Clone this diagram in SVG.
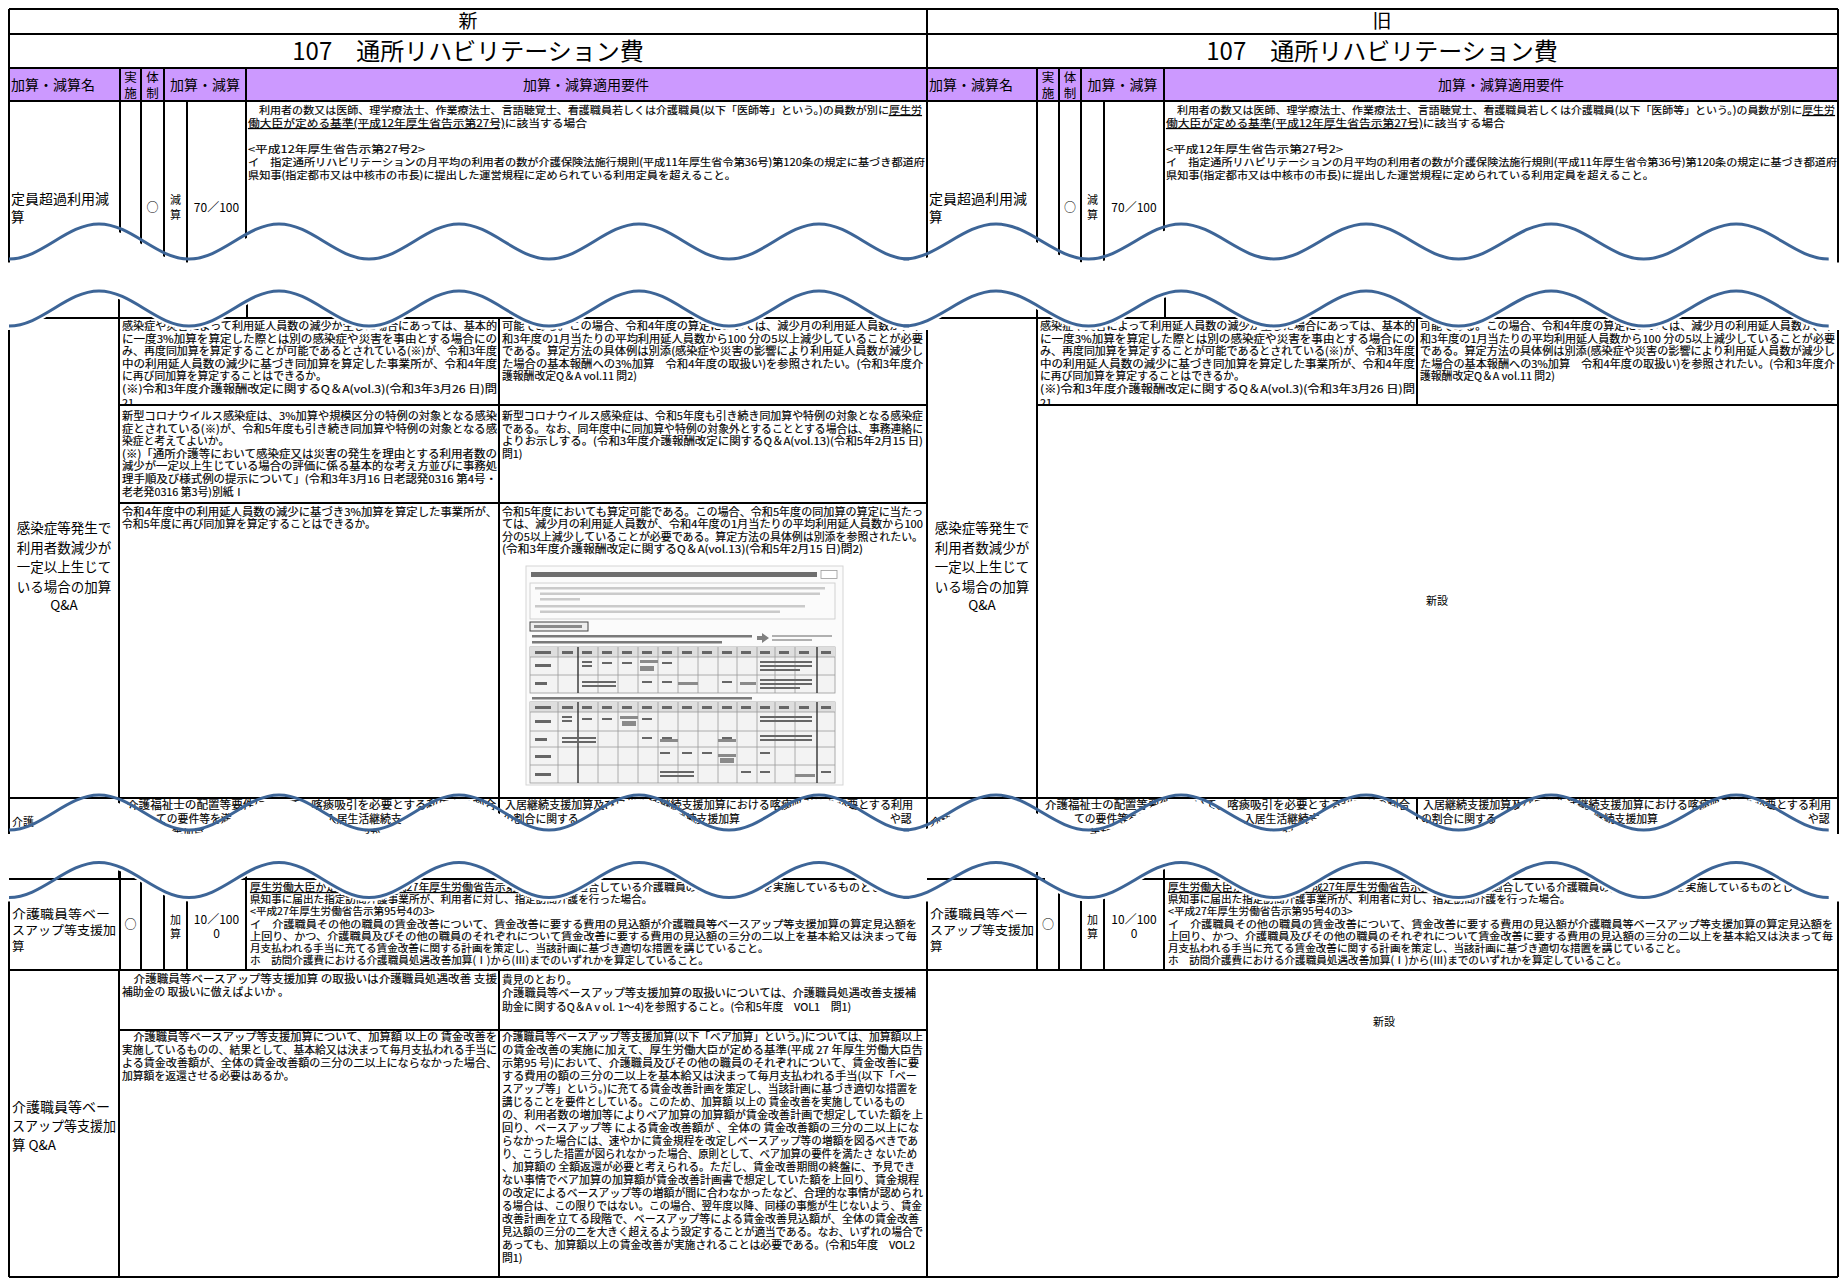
<svg xmlns="http://www.w3.org/2000/svg" width="1842" height="1283" viewBox="0 0 1842 1283">
<defs>
<style>
text{font-family:"Noto Sans CJK JP","Noto Sans CJK SC",sans-serif;fill:#000}
.f19{font-size:19px}
.f24{font-size:24px}
.f14{font-size:14px}
.f13{font-size:13.5px}
.f125{font-size:12.5px}
.f12{font-size:12px}
.f11{font-size:11px}
.f105{font-size:10.5px;stroke:#000;stroke-width:0.15px}
.f108{font-size:10.8px;stroke:#000;stroke-width:0.15px}
.f106{font-size:10.6px;stroke:#000;stroke-width:0.15px}
.c{text-anchor:middle}
.u{text-decoration:underline}
.ln{stroke:#000;stroke-width:2;fill:none}
.wv{fill:none;stroke:#3d6597;stroke-width:3}
.bd{fill:#fff;stroke:none}
.hd{fill:#cc99ff}
.fg{fill:none;stroke:#9a9a9a;stroke-width:0.8}
</style>
<path id="wave" d="M0,17.5 C32.7,17.5 57.3,-17.5 90,-17.5 S147.3,17.5 180,17.5 S237.3,-17.5 270,-17.5 S327.3,17.5 360,17.5 S417.3,-17.5 450,-17.5 S507.3,17.5 540,17.5 S597.3,-17.5 630,-17.5 S687.3,17.5 720,17.5 S777.3,-17.5 810,-17.5 S867.3,17.5 900,17.5"/>
<path id="bandA" d="M0,17.5 C32.7,17.5 57.3,-17.5 90,-17.5 S147.3,17.5 180,17.5 S237.3,-17.5 270,-17.5 S327.3,17.5 360,17.5 S417.3,-17.5 450,-17.5 S507.3,17.5 540,17.5 S597.3,-17.5 630,-17.5 S687.3,17.5 720,17.5 S777.3,-17.5 810,-17.5 S867.3,17.5 900,17.5 L922,17.5 L922,50 L-6,50 L-6,17.5 Z"/>
<path id="bandB" d="M0,17.5 C32.7,17.5 57.3,-17.5 90,-17.5 S147.3,17.5 180,17.5 S237.3,-17.5 270,-17.5 S327.3,17.5 360,17.5 S417.3,-17.5 450,-17.5 S507.3,17.5 540,17.5 S597.3,-17.5 630,-17.5 S687.3,17.5 720,17.5 S777.3,-17.5 810,-17.5 S867.3,17.5 900,17.5 L922,17.5 L922,-50 L-6,-50 L-6,17.5 Z"/>
<clipPath id="cq1"><rect x="119" y="318" width="380" height="88"/></clipPath>
<clipPath id="cq1r"><rect x="1037" y="318" width="380" height="88"/></clipPath>
</defs>
<rect x="0" y="0" width="1842" height="1283" fill="#fff"/>

<rect class="hd" x="9" y="68" width="918" height="33"/>
<rect class="hd" x="927" y="68" width="911" height="33"/>

<g id="connectors" class="ln">
<path d="M9,9 H1838 M9,34 H1838 M9,68 H1838 M9,101 H1838"/>
<path d="M9,9 V1277 M927,9 V1277 M1838,9 V1277 M9,1277 H1838"/>
<path d="M120,68 V280 M141,68 V280 M164,68 V280 M187,101 V280 M246,68 V280"/>
<path d="M1037,68 V280 M1059,68 V280 M1081,68 V280 M1104,101 V280 M1164,68 V280"/>
<path d="M247,280 V318 M1165,280 V318"/>
<path d="M9,318 H1838 M119,405 H927 M119,503 H927 M1037,405 H1838"/>
<path d="M119,280 V880 M499,318 V798 M1037,280 V880 M1417,318 V405"/>
<path d="M9,798 H1838 M499,798 V880 M1417,798 V880"/>
<path d="M9,879 H1838 M9,970 H1838"/>
<path d="M120,860 V970 M141,860 V970 M164,860 V970 M187,860 V970 M246,860 V970"/>
<path d="M1037,860 V970 M1059,860 V970 M1081,860 V970 M1104,860 V970 M1164,860 V970"/>
<path d="M119,970 V1277 M499,970 V1277 M119,1030 H927"/>
</g>

<g id="header-new">
<text class="f19 c" x="468" y="28">新</text>
<text class="f24 c" x="468" y="60">107　通所リハビリテーション費</text>
<text class="f14" x="11" y="90">加算・減算名</text>
<text class="f125 c" x="130.5" y="82">実</text><text class="f125 c" x="130.5" y="98">施</text>
<text class="f125 c" x="152.5" y="82">体</text><text class="f125 c" x="152.5" y="98">制</text>
<text class="f14 c" x="205" y="90">加算・減算</text>
<text class="f14 c" x="586" y="90">加算・減算適用要件</text>
</g>
<g id="header-old">
<text class="f19 c" x="1382" y="28">旧</text>
<text class="f24 c" x="1382" y="60">107　通所リハビリテーション費</text>
<text class="f14" x="929" y="90">加算・減算名</text>
<text class="f125 c" x="1048" y="82">実</text><text class="f125 c" x="1048" y="98">施</text>
<text class="f125 c" x="1070" y="82">体</text><text class="f125 c" x="1070" y="98">制</text>
<text class="f14 c" x="1122.5" y="90">加算・減算</text>
<text class="f14 c" x="1501" y="90">加算・減算適用要件</text>
</g>

<g id="row-teiin-new">
<text class="f13" x="11" y="204" textLength="98" lengthAdjust="spacingAndGlyphs">定員超過利用減</text>
<text class="f13" x="11" y="222">算</text>
<text class="f12 c" x="152.5" y="212">○</text>
<text class="f11 c" x="175.5" y="204">減</text>
<text class="f11 c" x="175.5" y="219">算</text>
<text class="f12 c" x="216.5" y="212">70／100</text>
<text class="f105" x="248" y="114" textLength="674" lengthAdjust="spacingAndGlyphs">　利用者の数又は医師、理学療法士、作業療法士、言語聴覚士、看護職員若しくは介護職員(以下「医師等」という。)の員数が別に<tspan class="u">厚生労</tspan></text>
<text class="f105" x="248" y="127" textLength="339" lengthAdjust="spacingAndGlyphs"><tspan class="u">働大臣が定める基準(平成12年厚生省告示第27号)</tspan>に該当する場合</text>
<text class="f105" x="248" y="153" textLength="177" lengthAdjust="spacingAndGlyphs">&lt;平成12年厚生省告示第27号2&gt;</text>
<text class="f105" x="248" y="166" textLength="677" lengthAdjust="spacingAndGlyphs">イ　指定通所リハビリテーションの月平均の利用者の数が介護保険法施行規則(平成11年厚生省令第36号)第120条の規定に基づき都道府</text>
<text class="f105" x="248" y="179" textLength="488" lengthAdjust="spacingAndGlyphs">県知事(指定都市又は中核市の市長)に提出した運営規程に定められている利用定員を超えること。</text>
</g>
<g id="row-teiin-old">
<text class="f13" x="929" y="204" textLength="98" lengthAdjust="spacingAndGlyphs">定員超過利用減</text>
<text class="f13" x="929" y="222">算</text>
<text class="f12 c" x="1070" y="212">○</text>
<text class="f11 c" x="1092.5" y="204">減</text>
<text class="f11 c" x="1092.5" y="219">算</text>
<text class="f12 c" x="1134" y="212">70／100</text>
<text class="f105" x="1166" y="114" textLength="669" lengthAdjust="spacingAndGlyphs">　利用者の数又は医師、理学療法士、作業療法士、言語聴覚士、看護職員若しくは介護職員(以下「医師等」という。)の員数が別に<tspan class="u">厚生労</tspan></text>
<text class="f105" x="1166" y="127" textLength="339" lengthAdjust="spacingAndGlyphs"><tspan class="u">働大臣が定める基準(平成12年厚生省告示第27号)</tspan>に該当する場合</text>
<text class="f105" x="1166" y="153" textLength="177" lengthAdjust="spacingAndGlyphs">&lt;平成12年厚生省告示第27号2&gt;</text>
<text class="f105" x="1166" y="166" textLength="671" lengthAdjust="spacingAndGlyphs">イ　指定通所リハビリテーションの月平均の利用者の数が介護保険法施行規則(平成11年厚生省令第36号)第120条の規定に基づき都道府</text>
<text class="f105" x="1166" y="179" textLength="488" lengthAdjust="spacingAndGlyphs">県知事(指定都市又は中核市の市長)に提出した運営規程に定められている利用定員を超えること。</text>
</g>

<g id="qa-kansen-new">
<text class="f13 c" x="64" y="533">感染症等発生で</text>
<text class="f13 c" x="64" y="552.5">利用者数減少が</text>
<text class="f13 c" x="64" y="572">一定以上生じて</text>
<text class="f13 c" x="64" y="591.5">いる場合の加算</text>
<text class="f13 c" x="64" y="610">Q&amp;A</text>
<g clip-path="url(#cq1)">
<text class="f108" x="122" y="330" textLength="375" lengthAdjust="spacingAndGlyphs">感染症や災害によって利用延人員数の減少が生じた場合にあっては、基本的</text>
<text class="f108" x="122" y="342.6" textLength="375" lengthAdjust="spacingAndGlyphs">に一度3%加算を算定した際とは別の感染症や災害を事由とする場合にの</text>
<text class="f108" x="122" y="355.2" textLength="375" lengthAdjust="spacingAndGlyphs">み、再度同加算を算定することが可能であるとされている(※)が、令和3年度</text>
<text class="f108" x="122" y="367.8" textLength="375" lengthAdjust="spacingAndGlyphs">中の利用延人員数の減少に基づき同加算を算定した事業所が、令和4年度</text>
<text class="f108" x="122" y="380.4">に再び同加算を算定することはできるか。</text>
<text class="f108" x="122" y="393" textLength="375" lengthAdjust="spacingAndGlyphs">(※)令和3年度介護報酬改定に関するQ＆A(vol.3)(令和3年3月26 日)問</text>
<text class="f108" x="122" y="407">21</text>
</g>
<text class="f108" x="502" y="330" textLength="421" lengthAdjust="spacingAndGlyphs">可能である。この場合、令和4年度の算定においては、減少月の利用延人員数が、令</text>
<text class="f108" x="502" y="342.6" textLength="421" lengthAdjust="spacingAndGlyphs">和3年度の1月当たりの平均利用延人員数から100 分の5以上減少していることが必要</text>
<text class="f108" x="502" y="355.2" textLength="421" lengthAdjust="spacingAndGlyphs">である。算定方法の具体例は別添(感染症や災害の影響により利用延人員数が減少し</text>
<text class="f108" x="502" y="367.8" textLength="421" lengthAdjust="spacingAndGlyphs">た場合の基本報酬への3%加算　令和4年度の取扱い)を参照されたい。(令和3年度介</text>
<text class="f108" x="502" y="380.4">護報酬改定Q＆A vol.11 問2)</text>

<text class="f108" x="122" y="420" textLength="375" lengthAdjust="spacingAndGlyphs">新型コロナウイルス感染症は、3%加算や規模区分の特例の対象となる感染</text>
<text class="f108" x="122" y="432.6" textLength="375" lengthAdjust="spacingAndGlyphs">症とされている(※)が、令和5年度も引き続き同加算や特例の対象となる感</text>
<text class="f108" x="122" y="445.2">染症と考えてよいか。</text>
<text class="f108" x="122" y="457.8" textLength="375" lengthAdjust="spacingAndGlyphs">(※)「通所介護等において感染症又は災害の発生を理由とする利用者数の</text>
<text class="f108" x="122" y="470.4" textLength="375" lengthAdjust="spacingAndGlyphs">減少が一定以上生じている場合の評価に係る基本的な考え方並びに事務処</text>
<text class="f108" x="122" y="483" textLength="375" lengthAdjust="spacingAndGlyphs">理手順及び様式例の提示について」(令和3年3月16 日老認発0316 第4号・</text>
<text class="f108" x="122" y="495.6">老老発0316 第3号)別紙Ⅰ</text>
<text class="f108" x="502" y="420" textLength="421" lengthAdjust="spacingAndGlyphs">新型コロナウイルス感染症は、令和5年度も引き続き同加算や特例の対象となる感染症</text>
<text class="f108" x="502" y="432.6" textLength="421" lengthAdjust="spacingAndGlyphs">である。なお、同年度中に同加算や特例の対象外とすることとする場合は、事務連絡に</text>
<text class="f108" x="502" y="445.2" textLength="421" lengthAdjust="spacingAndGlyphs">よりお示しする。(令和3年度介護報酬改定に関するQ＆A(vol.13)(令和5年2月15 日)</text>
<text class="f108" x="502" y="457.8">問1)</text>

<text class="f108" x="122" y="515.5" textLength="375" lengthAdjust="spacingAndGlyphs">令和4年度中の利用延人員数の減少に基づき3%加算を算定した事業所が、</text>
<text class="f108" x="122" y="528">令和5年度に再び同加算を算定することはできるか。</text>
<text class="f108" x="502" y="515.5" textLength="421" lengthAdjust="spacingAndGlyphs">令和5年度においても算定可能である。この場合、令和5年度の同加算の算定に当たっ</text>
<text class="f108" x="502" y="528" textLength="421" lengthAdjust="spacingAndGlyphs">ては、減少月の利用延人員数が、令和4年度の1月当たりの平均利用延人員数から100</text>
<text class="f108" x="502" y="540.5" textLength="421" lengthAdjust="spacingAndGlyphs">分の5以上減少していることが必要である。算定方法の具体例は別添を参照されたい。</text>
<text class="f108" x="502" y="553" textLength="361" lengthAdjust="spacingAndGlyphs">(令和3年度介護報酬改定に関するQ＆A(vol.13)(令和5年2月15 日)問2)</text>
</g>

<g id="qa-figure">
<rect x="526" y="566" width="317" height="219" fill="#fbfbfb" stroke="#d5d5d5" stroke-width="1"/>
<rect x="531" y="572" width="286" height="5" fill="#6e6e6e"/>
<rect x="821" y="570.5" width="16" height="8" fill="#fff" stroke="#9a9a9a" stroke-width="0.8"/>
<rect x="530" y="583" width="305" height="36" fill="none" stroke="#c8c8c8" stroke-width="0.8"/>
<g fill="#cacaca">
<rect x="535" y="587" width="290" height="2.5"/><rect x="540" y="592.5" width="280" height="2.5"/><rect x="540" y="598" width="40" height="2.5"/>
<rect x="535" y="605" width="270" height="2.5"/><rect x="540" y="610.5" width="240" height="2.5"/>
</g>
<rect x="530" y="622" width="58" height="9" fill="#efefef" stroke="#444" stroke-width="1"/>
<rect x="534" y="625" width="48" height="3" fill="#8a8a8a"/>
<rect x="532" y="635" width="220" height="2.5" fill="#7a7a7a"/>
<rect x="532" y="641" width="190" height="2.5" fill="#7a7a7a"/>
<path d="M757,636 h5 v-3 l7,5 l-7,5 v-3 h-5z" fill="#808080"/>
<rect x="772" y="635" width="60" height="2" fill="#b0b0b0"/><rect x="772" y="639" width="40" height="2" fill="#b0b0b0"/>
<rect x="530" y="647" width="305" height="46" fill="#f3f3f3" stroke="#999" stroke-width="0.8"/>
<rect x="530" y="647" width="305" height="10" fill="#dedede"/>
<path class="fg" d="M530,657 H835 M530,675 H835 M558,647 V693 M598,647 V693 M618,647 V693 M638,647 V693 M658,647 V693 M678,647 V693 M698,647 V693 M718,647 V693 M737,647 V693 M757,647 V693 M775,647 V693 M795,647 V693"/>
<path d="M578,647 V693 M817,647 V693" stroke="#333" stroke-width="1.4"/>
<g fill="#666">
<rect x="535" y="651" width="16" height="3"/><rect x="562" y="651" width="11" height="3"/><rect x="582" y="651" width="10" height="3"/><rect x="602" y="651" width="10" height="3"/><rect x="622" y="651" width="10" height="3"/><rect x="642" y="651" width="10" height="3"/><rect x="662" y="651" width="10" height="3"/><rect x="682" y="651" width="10" height="3"/><rect x="702" y="651" width="10" height="3"/><rect x="722" y="651" width="10" height="3"/><rect x="741" y="651" width="10" height="3"/><rect x="760" y="651" width="10" height="3"/><rect x="779" y="651" width="10" height="3"/><rect x="799" y="651" width="10" height="3"/><rect x="821" y="651" width="10" height="3"/>
<rect x="535" y="664" width="16" height="3"/><rect x="535" y="682" width="12" height="3"/>
<rect x="582" y="661" width="10" height="2"/><rect x="582" y="665" width="10" height="2"/><rect x="602" y="662" width="10" height="2"/><rect x="622" y="662" width="10" height="2"/><rect x="662" y="662" width="10" height="2"/>
<rect x="582" y="681" width="34" height="2"/><rect x="582" y="685" width="34" height="2"/><rect x="642" y="681" width="10" height="2"/><rect x="662" y="681" width="10" height="2"/><rect x="722" y="681" width="10" height="2"/>
<rect x="760" y="661" width="52" height="2"/><rect x="760" y="665" width="52" height="2"/><rect x="760" y="669" width="40" height="2"/>
<rect x="760" y="679" width="52" height="2"/><rect x="760" y="683" width="52" height="2"/><rect x="760" y="687" width="40" height="2"/>
</g>
<g fill="#8a8a8a">
<rect x="640" y="660" width="18" height="3"/><rect x="640" y="666" width="14" height="5"/>
<rect x="678" y="682" width="20" height="3"/><rect x="740" y="682" width="16" height="3"/>
</g>
<rect x="532" y="697" width="220" height="2.5" fill="#7a7a7a"/>
<rect x="530" y="702" width="305" height="81" fill="#f3f3f3" stroke="#999" stroke-width="0.8"/>
<rect x="530" y="702" width="305" height="10" fill="#dedede"/>
<path class="fg" d="M530,712 H835 M530,731 H835 M530,747 H835 M530,765 H835 M558,702 V783 M598,702 V783 M618,702 V783 M638,702 V783 M658,702 V783 M678,702 V783 M698,702 V783 M718,702 V783 M737,702 V783 M757,702 V783 M775,702 V783 M795,702 V783"/>
<path d="M578,702 V783 M817,702 V783" stroke="#333" stroke-width="1.4"/>
<g fill="#666">
<rect x="535" y="706" width="16" height="3"/><rect x="562" y="706" width="11" height="3"/><rect x="582" y="706" width="10" height="3"/><rect x="602" y="706" width="10" height="3"/><rect x="622" y="706" width="10" height="3"/><rect x="642" y="706" width="10" height="3"/><rect x="662" y="706" width="10" height="3"/><rect x="682" y="706" width="10" height="3"/><rect x="702" y="706" width="10" height="3"/><rect x="722" y="706" width="10" height="3"/><rect x="741" y="706" width="10" height="3"/><rect x="760" y="706" width="10" height="3"/><rect x="779" y="706" width="10" height="3"/><rect x="799" y="706" width="10" height="3"/><rect x="821" y="706" width="10" height="3"/>
<rect x="535" y="720" width="16" height="3"/><rect x="535" y="738" width="12" height="3"/><rect x="535" y="755" width="16" height="3"/><rect x="535" y="773" width="16" height="3"/>
<rect x="562" y="716" width="10" height="2"/><rect x="562" y="720" width="10" height="2"/><rect x="582" y="718" width="10" height="2"/><rect x="602" y="718" width="10" height="2"/><rect x="642" y="718" width="10" height="2"/>
<rect x="562" y="737" width="34" height="2"/><rect x="562" y="741" width="34" height="2"/><rect x="642" y="737" width="10" height="2"/><rect x="662" y="737" width="10" height="2"/><rect x="722" y="737" width="10" height="2"/>
<rect x="660" y="752" width="10" height="2"/><rect x="682" y="752" width="10" height="2"/><rect x="702" y="752" width="10" height="2"/><rect x="760" y="752" width="10" height="2"/>
<rect x="660" y="771" width="34" height="2"/><rect x="660" y="775" width="34" height="2"/><rect x="741" y="771" width="10" height="2"/><rect x="760" y="771" width="10" height="2"/><rect x="821" y="771" width="10" height="2"/>
<rect x="760" y="716" width="52" height="2"/><rect x="760" y="720" width="52" height="2"/><rect x="760" y="735" width="52" height="2"/><rect x="760" y="739" width="52" height="2"/>
</g>
<g fill="#8a8a8a">
<rect x="620" y="716" width="18" height="3"/><rect x="622" y="721" width="14" height="5"/>
<rect x="660" y="739" width="18" height="3"/><rect x="718" y="739" width="18" height="3"/>
<rect x="718" y="754" width="18" height="3"/><rect x="720" y="758" width="14" height="5"/>
<rect x="795" y="774" width="20" height="3"/>
</g>
</g>

<g id="qa-kansen-old">
<text class="f13 c" x="982" y="533">感染症等発生で</text>
<text class="f13 c" x="982" y="552.5">利用者数減少が</text>
<text class="f13 c" x="982" y="572">一定以上生じて</text>
<text class="f13 c" x="982" y="591.5">いる場合の加算</text>
<text class="f13 c" x="982" y="610">Q&amp;A</text>
<g clip-path="url(#cq1r)">
<text class="f108" x="1040" y="330" textLength="375" lengthAdjust="spacingAndGlyphs">感染症や災害によって利用延人員数の減少が生じた場合にあっては、基本的</text>
<text class="f108" x="1040" y="342.6" textLength="375" lengthAdjust="spacingAndGlyphs">に一度3%加算を算定した際とは別の感染症や災害を事由とする場合にの</text>
<text class="f108" x="1040" y="355.2" textLength="375" lengthAdjust="spacingAndGlyphs">み、再度同加算を算定することが可能であるとされている(※)が、令和3年度</text>
<text class="f108" x="1040" y="367.8" textLength="375" lengthAdjust="spacingAndGlyphs">中の利用延人員数の減少に基づき同加算を算定した事業所が、令和4年度</text>
<text class="f108" x="1040" y="380.4">に再び同加算を算定することはできるか。</text>
<text class="f108" x="1040" y="393" textLength="375" lengthAdjust="spacingAndGlyphs">(※)令和3年度介護報酬改定に関するQ＆A(vol.3)(令和3年3月26 日)問</text>
<text class="f108" x="1040" y="407">21</text>
</g>
<text class="f108" x="1420" y="330" textLength="415" lengthAdjust="spacingAndGlyphs">可能である。この場合、令和4年度の算定においては、減少月の利用延人員数が、令</text>
<text class="f108" x="1420" y="342.6" textLength="415" lengthAdjust="spacingAndGlyphs">和3年度の1月当たりの平均利用延人員数から100 分の5以上減少していることが必要</text>
<text class="f108" x="1420" y="355.2" textLength="415" lengthAdjust="spacingAndGlyphs">である。算定方法の具体例は別添(感染症や災害の影響により利用延人員数が減少し</text>
<text class="f108" x="1420" y="367.8" textLength="415" lengthAdjust="spacingAndGlyphs">た場合の基本報酬への3%加算　令和4年度の取扱い)を参照されたい。(令和3年度介</text>
<text class="f108" x="1420" y="380.4">護報酬改定Q＆A vol.11 問2)</text>
<text class="f11 c" x="1437" y="605">新設</text>
</g>

<g id="row-hidden-new">
<text class="f11" x="12" y="826">介護</text>
<text class="f108" x="127" y="809" textLength="369" lengthAdjust="spacingAndGlyphs">介護福祉士の配置等要件について、喀痰吸引を必要とする利用者の割合</text>
<text class="f108" x="156" y="823">ての要件等を満</text>
<text class="f108" x="326" y="823">入居生活継続支</text>
<text class="f108" x="172" y="838">等加算</text>
<text class="f108" x="364" y="838">3か</text>
<text class="f108" x="505" y="809" textLength="408" lengthAdjust="spacingAndGlyphs">入居継続支援加算及び日常生活継続支援加算における喀痰吸引等を必要とする利用</text>
<text class="f108" x="503" y="823">の割合に関する</text>
<text class="f108" x="675" y="823">継続支援加算</text>
<text class="f108" x="890" y="823">や認</text>
</g>
<g id="row-hidden-old">
<text class="f11" x="930" y="826">介護</text>
<text class="f108" x="1045" y="809" textLength="365" lengthAdjust="spacingAndGlyphs">介護福祉士の配置等要件について、喀痰吸引を必要とする利用者の割合</text>
<text class="f108" x="1074" y="823">ての要件等を満</text>
<text class="f108" x="1244" y="823">入居生活継続支</text>
<text class="f108" x="1090" y="838">等加算</text>
<text class="f108" x="1282" y="838">3か</text>
<text class="f108" x="1423" y="809" textLength="408" lengthAdjust="spacingAndGlyphs">入居継続支援加算及び日常生活継続支援加算における喀痰吸引等を必要とする利用</text>
<text class="f108" x="1421" y="823">の割合に関する</text>
<text class="f108" x="1593" y="823">継続支援加算</text>
<text class="f108" x="1808" y="823">や認</text>
</g>

<g id="row-baseup-new">
<text class="f125" x="12" y="919" textLength="98" lengthAdjust="spacingAndGlyphs">介護職員等ベー</text>
<text class="f125" x="12" y="935" textLength="104" lengthAdjust="spacingAndGlyphs">スアップ等支援加</text>
<text class="f125" x="12" y="951">算</text>
<text class="f12 c" x="130.5" y="929">○</text>
<text class="f11 c" x="175.5" y="924">加</text>
<text class="f11 c" x="175.5" y="938">算</text>
<text class="f12 c" x="216.5" y="924">10／100</text>
<text class="f12 c" x="216.5" y="938">0</text>
<text class="f106" x="250" y="891" textLength="675" lengthAdjust="spacingAndGlyphs"><tspan class="u">厚生労働大臣が定める基準(平成27年厚生労働省告示第95号4の3)</tspan>に適合している介護職員の賃金の改善等を実施しているものとして都道府</text>
<text class="f106" x="250" y="903">県知事に届出た指定訪問介護事業所が、利用者に対し、指定訪問介護を行った場合。</text>
<text class="f106" x="250" y="915">&lt;平成27年厚生労働省告示第95号4の3&gt;</text>
<text class="f106" x="250" y="927.5" textLength="667" lengthAdjust="spacingAndGlyphs">イ　介護職員その他の職員の賃金改善について、賃金改善に要する費用の見込額が介護職員等ベースアップ等支援加算の算定見込額を</text>
<text class="f106" x="250" y="939.5" textLength="667" lengthAdjust="spacingAndGlyphs">上回り、かつ、介護職員及びその他の職員のそれぞれについて賃金改善に要する費用の見込額の三分の二以上を基本給又は決まって毎</text>
<text class="f106" x="250" y="951.5">月支払われる手当に充てる賃金改善に関する計画を策定し、当該計画に基づき適切な措置を講じていること。</text>
<text class="f106" x="250" y="963.5">ホ　訪問介護費における介護職員処遇改善加算(Ⅰ)から(Ⅲ)までのいずれかを算定していること。</text>
</g>
<g id="row-baseup-old">
<text class="f125" x="930" y="919" textLength="98" lengthAdjust="spacingAndGlyphs">介護職員等ベー</text>
<text class="f125" x="930" y="935" textLength="104" lengthAdjust="spacingAndGlyphs">スアップ等支援加</text>
<text class="f125" x="930" y="951">算</text>
<text class="f12 c" x="1048" y="929">○</text>
<text class="f11 c" x="1092.5" y="924">加</text>
<text class="f11 c" x="1092.5" y="938">算</text>
<text class="f12 c" x="1134" y="924">10／100</text>
<text class="f12 c" x="1134" y="938">0</text>
<text class="f106" x="1168" y="891" textLength="668" lengthAdjust="spacingAndGlyphs"><tspan class="u">厚生労働大臣が定める基準(平成27年厚生労働省告示第95号4の3)</tspan>に適合している介護職員の賃金の改善等を実施しているものとして都道府</text>
<text class="f106" x="1168" y="903">県知事に届出た指定訪問介護事業所が、利用者に対し、指定訪問介護を行った場合。</text>
<text class="f106" x="1168" y="915">&lt;平成27年厚生労働省告示第95号4の3&gt;</text>
<text class="f106" x="1168" y="927.5" textLength="665" lengthAdjust="spacingAndGlyphs">イ　介護職員その他の職員の賃金改善について、賃金改善に要する費用の見込額が介護職員等ベースアップ等支援加算の算定見込額を</text>
<text class="f106" x="1168" y="939.5" textLength="665" lengthAdjust="spacingAndGlyphs">上回り、かつ、介護職員及びその他の職員のそれぞれについて賃金改善に要する費用の見込額の三分の二以上を基本給又は決まって毎</text>
<text class="f106" x="1168" y="951.5">月支払われる手当に充てる賃金改善に関する計画を策定し、当該計画に基づき適切な措置を講じていること。</text>
<text class="f106" x="1168" y="963.5">ホ　訪問介護費における介護職員処遇改善加算(Ⅰ)から(Ⅲ)までのいずれかを算定していること。</text>
</g>

<g id="qa-baseup-new">
<text class="f13" x="12" y="1112" textLength="98" lengthAdjust="spacingAndGlyphs">介護職員等ベー</text>
<text class="f13" x="12" y="1131" textLength="104" lengthAdjust="spacingAndGlyphs">スアップ等支援加</text>
<text class="f13" x="12" y="1150">算 Q&amp;A</text>
<text class="f108" x="122" y="983" textLength="375" lengthAdjust="spacingAndGlyphs">　介護職員等ベースアップ等支援加算 の取扱いは介護職員処遇改善 支援</text>
<text class="f108" x="122" y="995.5">補助金の 取扱いに倣えばよいか 。</text>
<text class="f108" x="502" y="984">貴見のとおり。</text>
<text class="f108" x="502" y="997" textLength="414" lengthAdjust="spacingAndGlyphs">介護職員等ベースアップ等支援加算の取扱いについては、介護職員処遇改善支援補</text>
<text class="f108" x="502" y="1011">助金に関するQ＆A v ol. 1～4)を参照すること。(令和5年度　VOL1　問1)</text>
<text class="f108" x="122" y="1041" textLength="375" lengthAdjust="spacingAndGlyphs">　介護職員等ベースアップ等支援加算について、加算額 以上の 賃金改善を</text>
<text class="f108" x="122" y="1054" textLength="375" lengthAdjust="spacingAndGlyphs">実施しているものの、結果として、基本給又は決まって毎月支払われる手当に</text>
<text class="f108" x="122" y="1067" textLength="375" lengthAdjust="spacingAndGlyphs">よる賃金改善額が、全体の賃金改善額の三分の二以上にならなかった場合、</text>
<text class="f108" x="122" y="1080">加算額を返還させる必要はあるか。</text>
<text class="f108" x="502" y="1041" textLength="421" lengthAdjust="spacingAndGlyphs">介護職員等ベースアップ等支援加算(以下「ベア加算」という。)については、加算額以上</text>
<text class="f108" x="502" y="1054" textLength="421" lengthAdjust="spacingAndGlyphs">の賃金改善の実施に加えて、厚生労働大臣が定める基準(平成 27 年厚生労働大臣告</text>
<text class="f108" x="502" y="1067" textLength="417" lengthAdjust="spacingAndGlyphs">示第95 号)において、介護職員及びその他の職員のそれぞれについて、賃金改善に要</text>
<text class="f108" x="502" y="1080" textLength="415" lengthAdjust="spacingAndGlyphs">する費用の額の三分の二以上を基本給又は決まって毎月支払われる手当(以下「ベー</text>
<text class="f108" x="502" y="1093" textLength="416" lengthAdjust="spacingAndGlyphs">スアップ等」という。)に充てる賃金改善計画を策定し、当該計画に基づき適切な措置を</text>
<text class="f108" x="502" y="1106" textLength="403" lengthAdjust="spacingAndGlyphs">講じることを要件としている。このため、加算額 以上の 賃金改善を実施しているもの</text>
<text class="f108" x="502" y="1119" textLength="421" lengthAdjust="spacingAndGlyphs">の、利用者数の増加等によりベア加算の加算額が賃金改善計画で想定していた額を上</text>
<text class="f108" x="502" y="1132" textLength="417" lengthAdjust="spacingAndGlyphs">回り、ベースアップ等 による賃金改善額が 、全体の 賃金改善額の三分の二以上にな</text>
<text class="f108" x="502" y="1145" textLength="416" lengthAdjust="spacingAndGlyphs">らなかった場合には、速やかに賃金規程を改定しベースアップ等の増額を図るべきであ</text>
<text class="f108" x="502" y="1158" textLength="415" lengthAdjust="spacingAndGlyphs">り、こうした措置が図られなかった場合、原則として、ベア加算の要件を満たさ ないため</text>
<text class="f108" x="502" y="1171" textLength="413" lengthAdjust="spacingAndGlyphs">、加算額の 全額返還が必要と考えられる。ただし、賃金改善期間の終盤に、予見でき</text>
<text class="f108" x="502" y="1184" textLength="417" lengthAdjust="spacingAndGlyphs">ない事情でベア加算の加算額が賃金改善計画書で想定していた額を上回り、賃金規程</text>
<text class="f108" x="502" y="1197" textLength="421" lengthAdjust="spacingAndGlyphs">の改定によるベースアップ等の増額が間に合わなかったなど、合理的な事情が認められ</text>
<text class="f108" x="502" y="1210" textLength="420" lengthAdjust="spacingAndGlyphs">る場合は、この限りではない。この場合、翌年度以降、同様の事態が生じないよう、賃金</text>
<text class="f108" x="502" y="1223" textLength="417" lengthAdjust="spacingAndGlyphs">改善計画を立てる段階で、ベースアップ等による賃金改善見込額が、全体の賃金改善</text>
<text class="f108" x="502" y="1236" textLength="421" lengthAdjust="spacingAndGlyphs">見込額の三分の二を大きく超えるよう設定することが適当である。なお、いずれの場合で</text>
<text class="f108" x="502" y="1249" textLength="413" lengthAdjust="spacingAndGlyphs">あっても、加算額以上の賃金改善が実施されることは必要である。(令和5年度　VOL2</text>
<text class="f108" x="502" y="1262">問1)</text>
</g>
<g id="qa-baseup-old">
<text class="f11 c" x="1384" y="1026">新設</text>
</g>

<g id="cut-bands">
<use href="#bandA" class="bd" transform="translate(9,245.5)"/>
<use href="#bandB" class="bd" transform="translate(9,312.5)"/>
<use href="#bandA" class="bd" transform="translate(903.5,245.5) scale(1.028,1)"/>
<use href="#bandB" class="bd" transform="translate(903.5,312.5) scale(1.028,1)"/>
<use href="#bandA" class="bd" transform="translate(9,816.5)"/>
<use href="#bandB" class="bd" transform="translate(9,884)"/>
<use href="#bandA" class="bd" transform="translate(903.5,816.5) scale(1.028,1)"/>
<use href="#bandB" class="bd" transform="translate(903.5,884) scale(1.028,1)"/>
</g>
<path d="M9,879 H127 M120,872 V886" stroke="#000" stroke-width="2" fill="none"/>
<path d="M927,879 H1045 M1037,872 V886" stroke="#000" stroke-width="2" fill="none"/>
<g id="waves">
<use href="#wave" class="wv" transform="translate(9,241.5)"/>
<use href="#wave" class="wv" transform="translate(9,308.5)"/>
<use href="#wave" class="wv" transform="translate(903.5,241.5) scale(1.028,1)"/>
<use href="#wave" class="wv" transform="translate(903.5,308.5) scale(1.028,1)"/>
<use href="#wave" class="wv" transform="translate(9,812.5)"/>
<use href="#wave" class="wv" transform="translate(9,880)"/>
<use href="#wave" class="wv" transform="translate(903.5,812.5) scale(1.028,1)"/>
<use href="#wave" class="wv" transform="translate(903.5,880) scale(1.028,1)"/>
</g>
</svg>
